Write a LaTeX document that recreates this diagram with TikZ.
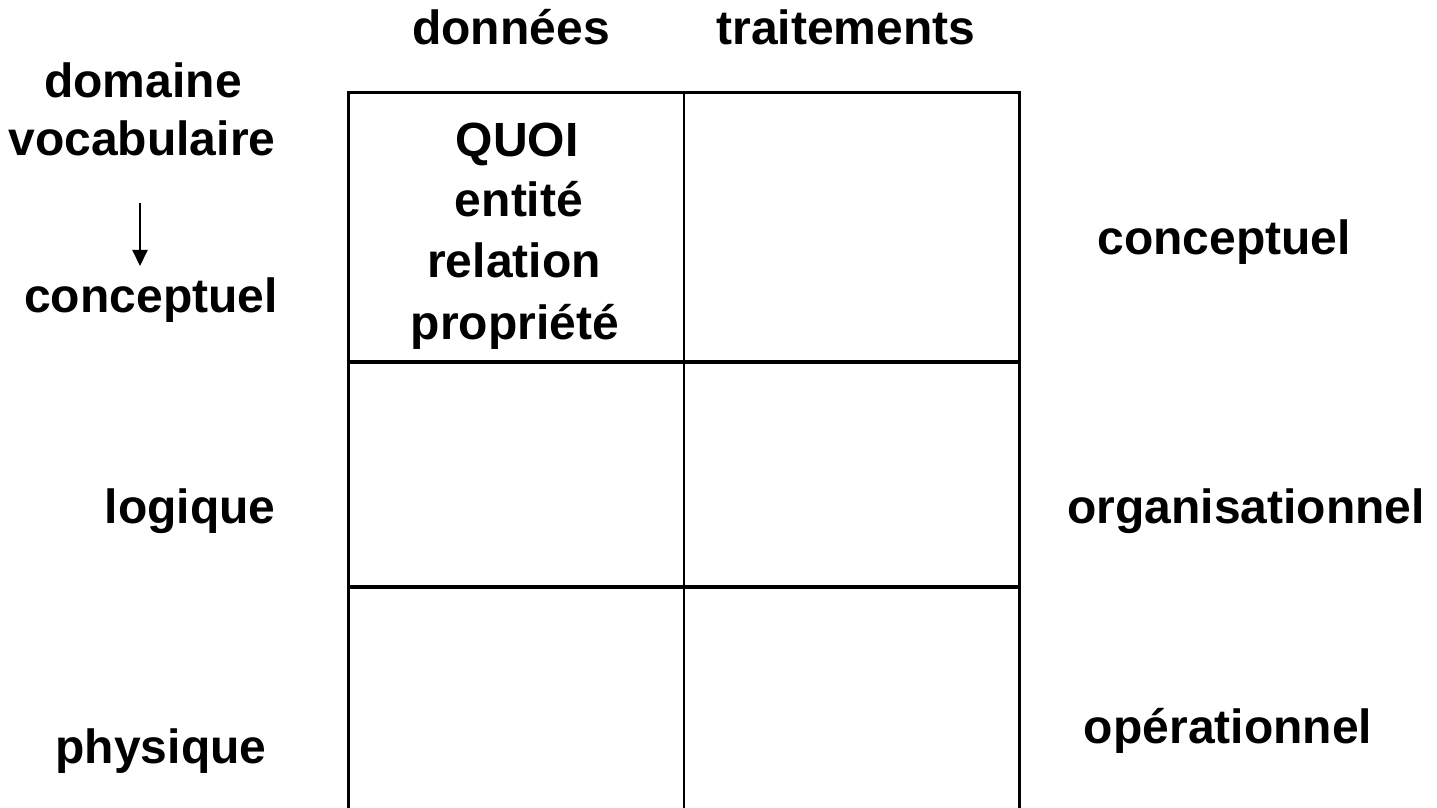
\documentclass[tikz,border=0pt]{standalone}
\usepackage{fontspec}
\setmainfont{Liberation Sans}
\usetikzlibrary{arrows.meta}
\begin{document}
\begin{tikzpicture}[x=0.5pt,y=-0.5pt,
  lbl/.style={font=\fontsize{24}{28}\selectfont\bfseries, inner sep=0pt, anchor=base},
  frame/.style={line width=1.5pt, black},
  midline/.style={line width=1pt, black},
  rowline/.style={line width=2.2pt, black}]
\useasboundingbox (0,0) rectangle (1437,808);
\fill[white] (0,0) rectangle (1437,808);

% grid corners
\coordinate (tl) at (348,93);
\coordinate (tm) at (684,93);
\coordinate (tr) at (1019,93);
\coordinate (bl) at (348,808);
\coordinate (bm) at (684,808);
\coordinate (br) at (1019,808);
\coordinate (r1l) at (348,362);
\coordinate (r1r) at (1019,362);
\coordinate (r2l) at (348,587);
\coordinate (r2r) at (1019,587);

% table lines
\draw[frame] (bl) -- (tl) -- (tr) -- (br);
\draw[midline] (tm) -- (bm);
\draw[rowline] (r1l) -- (r1r);
\draw[rowline] (r2l) -- (r2r);

% column headers
\node[lbl] (donnees) at (511,45) {données};
\node[lbl] (traitements) at (846,45) {traitements};

% left labels
\node[lbl] (domaine) at (143,98) {domaine};
\node[lbl] (vocab) at (142,156) {vocabulaire};
\coordinate (arrA) at (140,203);
\coordinate (arrB) at (140,266);
\draw[line width=1pt, -{Triangle[length=8pt,width=7.5pt]}] (arrA) -- (arrB);
\node[lbl] (conceptL) at (151,313) {conceptuel};
\node[lbl] (logique) at (190,523) {logique};
\node[lbl] (physique) at (161,763) {physique};

% right labels
\node[lbl] (conceptR) at (1224,255) {conceptuel};
\node[lbl] (organis) at (1246,523) {organisationnel};
\node[lbl] (operat) at (1228,743) {opérationnel};

% cell content
\node[lbl] (quoi) at (517,157) {QUOI};
\node[lbl] (entite) at (519,217) {entité};
\node[lbl] (relation) at (514,278) {relation};
\node[lbl] (propriete) at (515,339) {propriété};
\end{tikzpicture}
\end{document}
